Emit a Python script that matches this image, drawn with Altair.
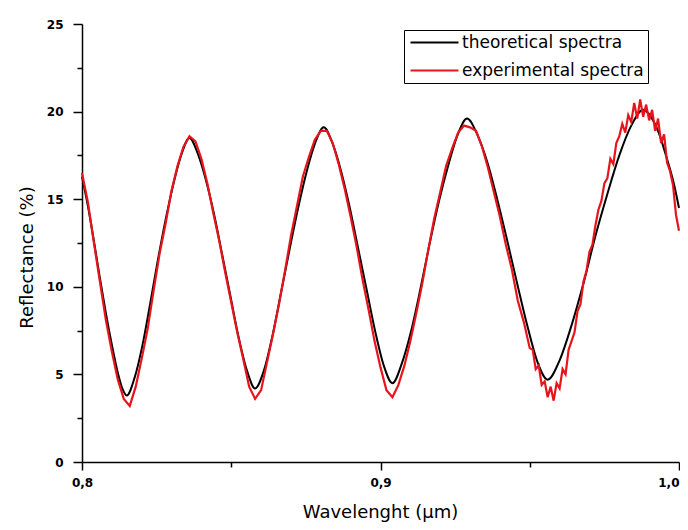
import altair as alt
import pandas as pd

# theoretical spectrum (wavelength in µm, reflectance in %)
theo_x = [0.800, 0.802, 0.804, 0.806, 0.808, 0.810, 0.812, 0.8135, 0.815,
          0.8176, 0.8203, 0.8229, 0.8255, 0.8281, 0.8308, 0.8334, 0.836,
          0.8388, 0.8415, 0.8443, 0.847, 0.8498, 0.8525, 0.8553, 0.858,
          0.8609, 0.8638, 0.8666, 0.8695, 0.8724, 0.8753, 0.8781, 0.881,
          0.8839, 0.8868, 0.8896, 0.8925, 0.8954, 0.8983, 0.9011, 0.904,
          0.9071, 0.9103, 0.9134, 0.9165, 0.9196, 0.9228, 0.9259, 0.929,
          0.9324, 0.9358, 0.9391, 0.9425, 0.9459, 0.9493, 0.9526, 0.956,
          0.960, 0.964, 0.968, 0.972, 0.976, 0.980, 0.984, 0.988,
          0.9906, 0.9932, 0.9958, 0.9984, 1.000]
theo_y = [16.3, 14.6, 12.6, 10.5, 8.5, 6.7, 5.1, 4.2, 3.8,
          4.8, 6.7, 9.1, 11.6, 13.9, 16.0, 17.6, 18.5,
          17.6, 16.1, 14.1, 11.8, 9.4, 7.1, 5.2, 4.2,
          5.2, 7.2, 9.6, 12.1, 14.5, 16.6, 18.2, 19.1,
          18.2, 16.6, 14.6, 12.2, 9.8, 7.4, 5.5, 4.5,
          5.6, 7.5, 9.9, 12.5, 14.9, 17.0, 18.7, 19.6,
          18.7, 17.1, 15.0, 12.6, 10.1, 7.7, 5.7, 4.7,
          5.8, 7.8, 10.2, 12.9, 15.3, 17.5, 19.2, 20.1,
          19.7, 18.8, 17.4, 15.8, 14.5]

# experimental spectrum
exp_x = [0.800, 0.802, 0.804, 0.806, 0.808, 0.810, 0.812, 0.814, 0.816,
         0.818, 0.820, 0.822, 0.824, 0.826, 0.828, 0.830, 0.832, 0.834, 0.836, 0.838,
         0.840, 0.842, 0.844, 0.846, 0.848, 0.850, 0.852, 0.854, 0.856, 0.858, 0.860,
         0.862, 0.864, 0.866, 0.868, 0.870, 0.872, 0.874, 0.876, 0.878, 0.880, 0.882,
         0.884, 0.886, 0.888, 0.890, 0.892, 0.894, 0.896, 0.898, 0.900, 0.902, 0.904, 0.906,
         0.908, 0.910, 0.912, 0.914, 0.916, 0.918, 0.920, 0.922, 0.924, 0.926, 0.928, 0.930,
         0.932, 0.934, 0.936, 0.938, 0.940, 0.942, 0.944, 0.946, 0.948, 0.950,
         0.951, 0.952, 0.953, 0.954, 0.955, 0.956, 0.957, 0.958, 0.959, 0.960,
         0.961, 0.962, 0.963, 0.964, 0.965, 0.966, 0.967, 0.968, 0.969, 0.970,
         0.971, 0.972, 0.973, 0.974, 0.975, 0.976, 0.977, 0.978, 0.979, 0.980,
         0.981, 0.982, 0.983, 0.984, 0.985, 0.986, 0.987, 0.988, 0.989, 0.990,
         0.991, 0.992, 0.993, 0.994, 0.995, 0.996, 0.997, 0.998, 0.999, 1.000]
exp_y = [16.5, 14.8, 12.5, 10.3, 8.1, 6.3, 4.7, 3.6, 3.2,
         4.3, 5.9, 7.6, 9.8, 11.9, 13.6, 15.5, 16.9, 18.0, 18.6, 18.3,
         17.3, 15.9, 14.2, 12.6, 10.8, 9.1, 7.4, 5.9, 4.3, 3.6, 4.1,
         5.7, 7.3, 9.0, 10.9, 12.9, 14.6, 16.3, 17.4, 18.4, 18.9, 18.9,
         18.2, 17.0, 15.6, 14.0, 12.3, 10.4, 8.7, 6.9, 5.4, 4.1, 3.7, 4.4,
         5.5, 6.9, 8.5, 10.2, 12.1, 13.9, 15.4, 16.9, 17.9, 18.8, 19.2, 19.1,
         18.9, 18.0, 16.8, 15.4, 14.0, 12.4, 11.0, 9.2, 8.0, 6.5,
         6.4, 5.3, 5.5, 4.4, 4.6, 3.7, 4.3, 3.5, 4.5, 4.2,
         5.3, 5.0, 6.4, 6.9, 7.4, 8.6, 9.0, 10.3, 10.9, 12.0,
         12.4, 13.5, 14.4, 14.9, 15.9, 16.2, 17.3, 17.0, 18.2, 18.6,
         19.3, 18.8, 19.8, 19.4, 20.5, 19.6, 20.7, 19.7, 20.4, 19.5,
         20.1, 18.9, 19.6, 18.2, 18.7, 17.1, 16.6, 15.8, 14.1, 13.2]

series_names = ["theoretical spectra", "experimental spectra"]
series_colors = ["#000000", "#e8141c"]

y_ticks = [0, 2.5, 5, 7.5, 10, 12.5, 15, 17.5, 20, 22.5, 25]
x_ticks = [0.8, 0.85, 0.9, 0.95, 1.0]

theo = pd.DataFrame({"x": theo_x, "y": theo_y, "series": series_names[0]})
expd = pd.DataFrame({"x": exp_x, "y": exp_y, "series": series_names[1]})

color_scale = alt.Scale(domain=series_names, range=series_colors)

x_enc = alt.X(
    "x:Q",
    scale=alt.Scale(domain=[0.8, 1.0], nice=False, zero=False),
    axis=alt.Axis(
        title="Wavelenght (µm)",
        values=x_ticks,
        grid=False,
        domainColor="black",
        domainWidth=1.5,
        tickColor="black",
        tickWidth=1.5,
        tickSize={"condition": {"test": "round(datum.value*100) % 10 != 0", "value": 5}, "value": 8},
        labelExpr="round(datum.value*100) % 10 != 0 ? '' : replace(format(datum.value, '.1f'), '.', ',')",
        labelAlign={"condition": {"test": "datum.value >= 0.999", "value": "right"}, "value": "center"},
        labelFont="DejaVu Sans",
        labelFontWeight="bold",
        labelFontSize=12,
        labelColor="black",
        labelPadding=7,
        labelFlush=False,
        labelOverlap=False,
        titleFont="DejaVu Sans",
        titleFontWeight="normal",
        titleFontSize=18,
        titleColor="black",
        titleX=298,
        titleY=55,
        titleBaseline="alphabetic",
        titleAlign="center",
    ),
)

y_enc = alt.Y(
    "y:Q",
    scale=alt.Scale(domain=[0, 25], nice=False),
    axis=alt.Axis(
        title="Reflectance (%)",
        values=y_ticks,
        grid=False,
        domainColor="black",
        domainWidth=1.5,
        tickColor="black",
        tickWidth=1.5,
        tickSize={"condition": {"test": "datum.value % 5 != 0", "value": 5}, "value": 9},
        labelExpr="datum.value % 5 != 0 ? '' : format(datum.value, 'd')",
        labelFont="DejaVu Sans",
        labelFontWeight="bold",
        labelFontSize=12,
        labelColor="black",
        labelPadding=10,
        labelOverlap=False,
        titleFont="DejaVu Sans",
        titleFontWeight="normal",
        titleFontSize=18,
        titleColor="black",
        titleAngle=270,
        titleX=-55,
        titleY=233,
        titleAlign="center",
        titleBaseline="middle",
    ),
)

legend = alt.Legend(
    title=None,
    orient="none",
    legendX=322,
    legendY=6,
    strokeColor="black",
    fillColor="white",
    padding=4,
    symbolType="M-1,0H7",
    symbolSize=144,
    symbolStrokeWidth=2,
    labelFont="DejaVu Sans",
    labelFontSize=17,
    labelColor="black",
    labelOffset=37,
    labelLimit=400,
    rowPadding=10,
)

color_enc = alt.Color("series:N", scale=color_scale, legend=legend, sort=series_names)

theo_line = alt.Chart(theo).mark_line(strokeWidth=2, interpolate="monotone").encode(
    x=x_enc,
    y=y_enc,
    color=color_enc,
)

exp_line = alt.Chart(expd).mark_line(strokeWidth=2.2).encode(
    x="x:Q",
    y="y:Q",
    color=color_enc,
)

chart = alt.layer(theo_line, exp_line).properties(
    width=597,
    height=438,
    autosize=alt.AutoSizeParams(type="none"),
    padding={"left": 74, "top": 16, "right": 1, "bottom": 60},
    background="white",
).configure_view(stroke=None)

chart.save("out.html", embed_options={"renderer": "svg", "actions": False})
